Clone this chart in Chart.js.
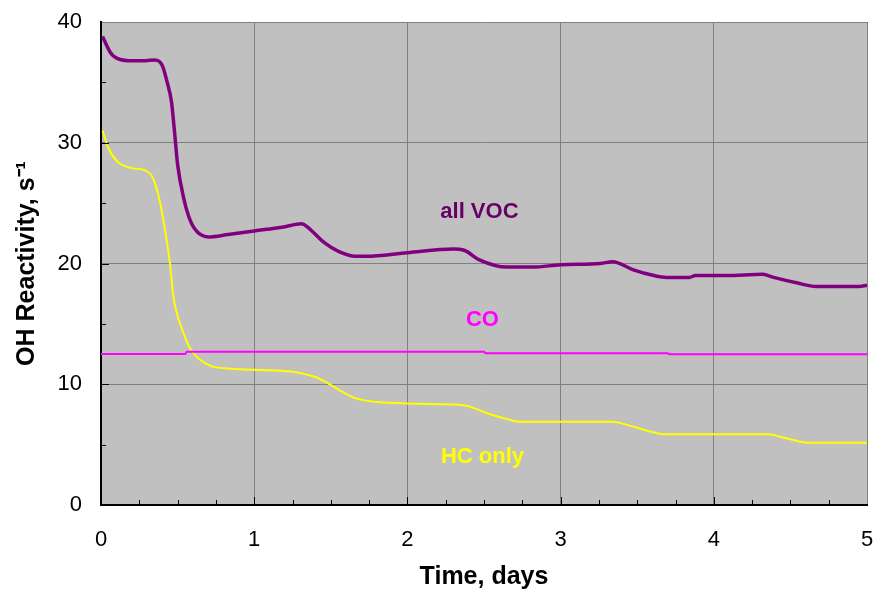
<!DOCTYPE html>
<html>
<head>
<meta charset="utf-8">
<script src="https://cdn.jsdelivr.net/npm/chart.js@4"></script>
<style>
  html, body { margin: 0; padding: 0; background: #fff; }
  #wrap { width: 875px; height: 596px; }
</style>
</head>
<body>
<div id="wrap"><canvas id="chart" width="875" height="596"></canvas></div>
<script>
// all VOC reactivity (s-1) vs time (days)
const vocDays = [0.01, 0.06, 0.09, 0.18, 0.29, 0.35, 0.40, 0.43, 0.46, 0.48, 0.50, 0.54, 0.57, 0.61, 0.70, 0.83,
  1.00, 1.18, 1.31, 1.35, 1.46, 1.55, 1.66, 1.73, 2.00, 2.30, 2.37, 2.47, 2.65, 2.82, 3.00, 3.26, 3.34, 3.47,
  3.61, 3.69, 3.84, 3.88, 4.08, 4.32, 4.39, 4.54, 4.67, 4.95, 5.00];
const vocValues = [38.8, 37.5, 37.1, 36.8, 36.8, 36.85, 36.4, 35.1, 33.4, 30.9, 28.2, 25.4, 24.0, 22.9, 22.2, 22.4,
  22.7, 23.0, 23.3, 23.0, 21.7, 21.0, 20.6, 20.6, 20.9, 21.2, 21.1, 20.3, 19.7, 19.7, 19.9, 20.0, 20.15, 19.5,
  19.0, 18.85, 18.85, 19.0, 19.0, 19.1, 18.85, 18.4, 18.1, 18.1, 18.2];

// hydrocarbons only
const hcDays = [0.01, 0.05, 0.11, 0.20, 0.29, 0.34, 0.385, 0.42, 0.45, 0.47, 0.49, 0.54, 0.58, 0.635, 0.72, 0.83,
  1.00, 1.27, 1.40, 1.48, 1.57, 1.66, 1.82, 2.21, 2.39, 2.52, 2.67, 2.73, 3.30, 3.34, 3.47, 3.63, 3.69, 4.35,
  4.48, 4.63, 5.00];
const hcValues = [31.0, 29.5, 28.4, 27.9, 27.7, 27.05, 25.1, 22.6, 20.0, 17.5, 16.1, 14.2, 13.0, 12.15, 11.5, 11.3,
  11.2, 11.0, 10.6, 10.1, 9.4, 8.85, 8.5, 8.35, 8.2, 7.6, 7.05, 6.9, 6.9, 6.9, 6.5, 5.95, 5.85, 5.85,
  5.5, 5.15, 5.15];

// CO
const coDays = [0.00, 0.55, 0.56, 2.50, 2.51, 3.70, 3.71, 5.00];
const coValues = [12.5, 12.5, 12.7, 12.7, 12.56, 12.56, 12.48, 12.48];

const xTicks = [0, 1, 2, 3, 4, 5];
const yTicks = [0, 10, 20, 30, 40];

const seriesLabels = ['all VOC', 'CO', 'HC only'];

const toPoints = (xs, ys) => xs.map((x, i) => ({ x, y: ys[i] }));

// in-chart series labels, placed in data units
const labelSpots = [
  { text: 'all VOC', x: 2.47, y: 24.3, color: '#660066' },
  { text: 'CO', x: 2.49, y: 15.3, color: '#ff00ff' },
  { text: 'HC only', x: 2.49, y: 4.0, color: '#ffff00' },
];

const plotDecor = {
  id: 'plotDecor',
  beforeDraw(chart) {
    const { ctx, chartArea: a } = chart;
    ctx.save();
    ctx.fillStyle = '#c0c0c0';
    ctx.fillRect(a.left, a.top, a.right - a.left, a.bottom - a.top);
    ctx.restore();
  },
  afterDatasetsDraw(chart) {
    const { ctx, chartArea: a, scales: { x, y } } = chart;
    ctx.save();
    ctx.strokeStyle = '#000';
    ctx.lineWidth = 1;
    ctx.beginPath();
    for (let v = 0.25; v < 5; v += 0.25) {
      const px = Math.round(x.getPixelForValue(v)) + 0.5;
      const len = Number.isInteger(v) ? 8 : 5;
      ctx.moveTo(px, a.bottom);
      ctx.lineTo(px, a.bottom - len);
    }
    for (let v = 5; v < 40; v += 5) {
      const py = Math.round(y.getPixelForValue(v)) + 0.5;
      const len = v % 10 === 0 ? 8 : 5;
      ctx.moveTo(a.left, py);
      ctx.lineTo(a.left + len, py);
    }
    ctx.stroke();

    ctx.font = 'bold 22px "Liberation Sans", Arial, sans-serif';
    ctx.textAlign = 'center';
    ctx.textBaseline = 'middle';
    labelSpots.forEach(l => {
      ctx.fillStyle = l.color;
      ctx.fillText(l.text, x.getPixelForValue(l.x), y.getPixelForValue(l.y));
    });
    ctx.restore();
  },
};

new Chart(document.getElementById('chart'), {
  type: 'line',
  data: {
    datasets: [
      {
        label: seriesLabels[0],
        data: toPoints(vocDays, vocValues),
        borderColor: '#800080',
        borderWidth: 3.5,
        cubicInterpolationMode: 'monotone',
      },
      {
        label: seriesLabels[1],
        data: toPoints(coDays, coValues),
        borderColor: '#ff00ff',
        borderWidth: 2,
        tension: 0,
      },
      {
        label: seriesLabels[2],
        data: toPoints(hcDays, hcValues),
        borderColor: '#ffff00',
        borderWidth: 2,
        cubicInterpolationMode: 'monotone',
      },
    ],
  },
  options: {
    responsive: false,
    animation: false,
    events: [],
    elements: { point: { radius: 0 } },
    layout: { padding: { left: 0, right: 8, top: 22, bottom: 0 } },
    plugins: { legend: { display: false }, tooltip: { enabled: false } },
    scales: {
      x: {
        type: 'linear',
        min: 0,
        max: 5,
        afterBuildTicks: scale => { scale.ticks = xTicks.map(value => ({ value })); },
        afterFit: scale => {
          scale.height = 91;
          scale.paddingLeft = 0;
          scale.paddingRight = 0;
        },
        grid: { color: '#808080', lineWidth: 1, drawTicks: false },
        border: { color: '#000', width: 2 },
        ticks: {
          padding: 22,
          color: '#000',
          font: { family: '"Liberation Sans", Arial, sans-serif', size: 22 },
          maxRotation: 0,
        },
        title: {
          display: true,
          text: 'Time, days',
          color: '#000',
          font: { family: '"Liberation Sans", Arial, sans-serif', size: 25, weight: 'bold' },
          padding: { top: 0, bottom: 4 },
        },
      },
      y: {
        min: 0,
        max: 40,
        afterBuildTicks: scale => { scale.ticks = yTicks.map(value => ({ value })); },
        afterFit: scale => {
          scale.width = 101;
          scale.paddingTop = 0;
          scale.paddingBottom = 0;
        },
        grid: { color: '#808080', lineWidth: 1, drawTicks: false },
        border: { color: '#000', width: 2 },
        ticks: {
          padding: 19,
          color: '#000',
          font: { family: '"Liberation Sans", Arial, sans-serif', size: 22 },
        },
        title: {
          display: true,
          text: 'OH Reactivity, s\u207B\u00B9',
          color: '#000',
          font: { family: '"Liberation Sans", Arial, sans-serif', size: 25, weight: 'bold' },
          padding: { top: 12, bottom: 0 },
        },
      },
    },
  },
  plugins: [plotDecor],
});
</script>
</body>
</html>
